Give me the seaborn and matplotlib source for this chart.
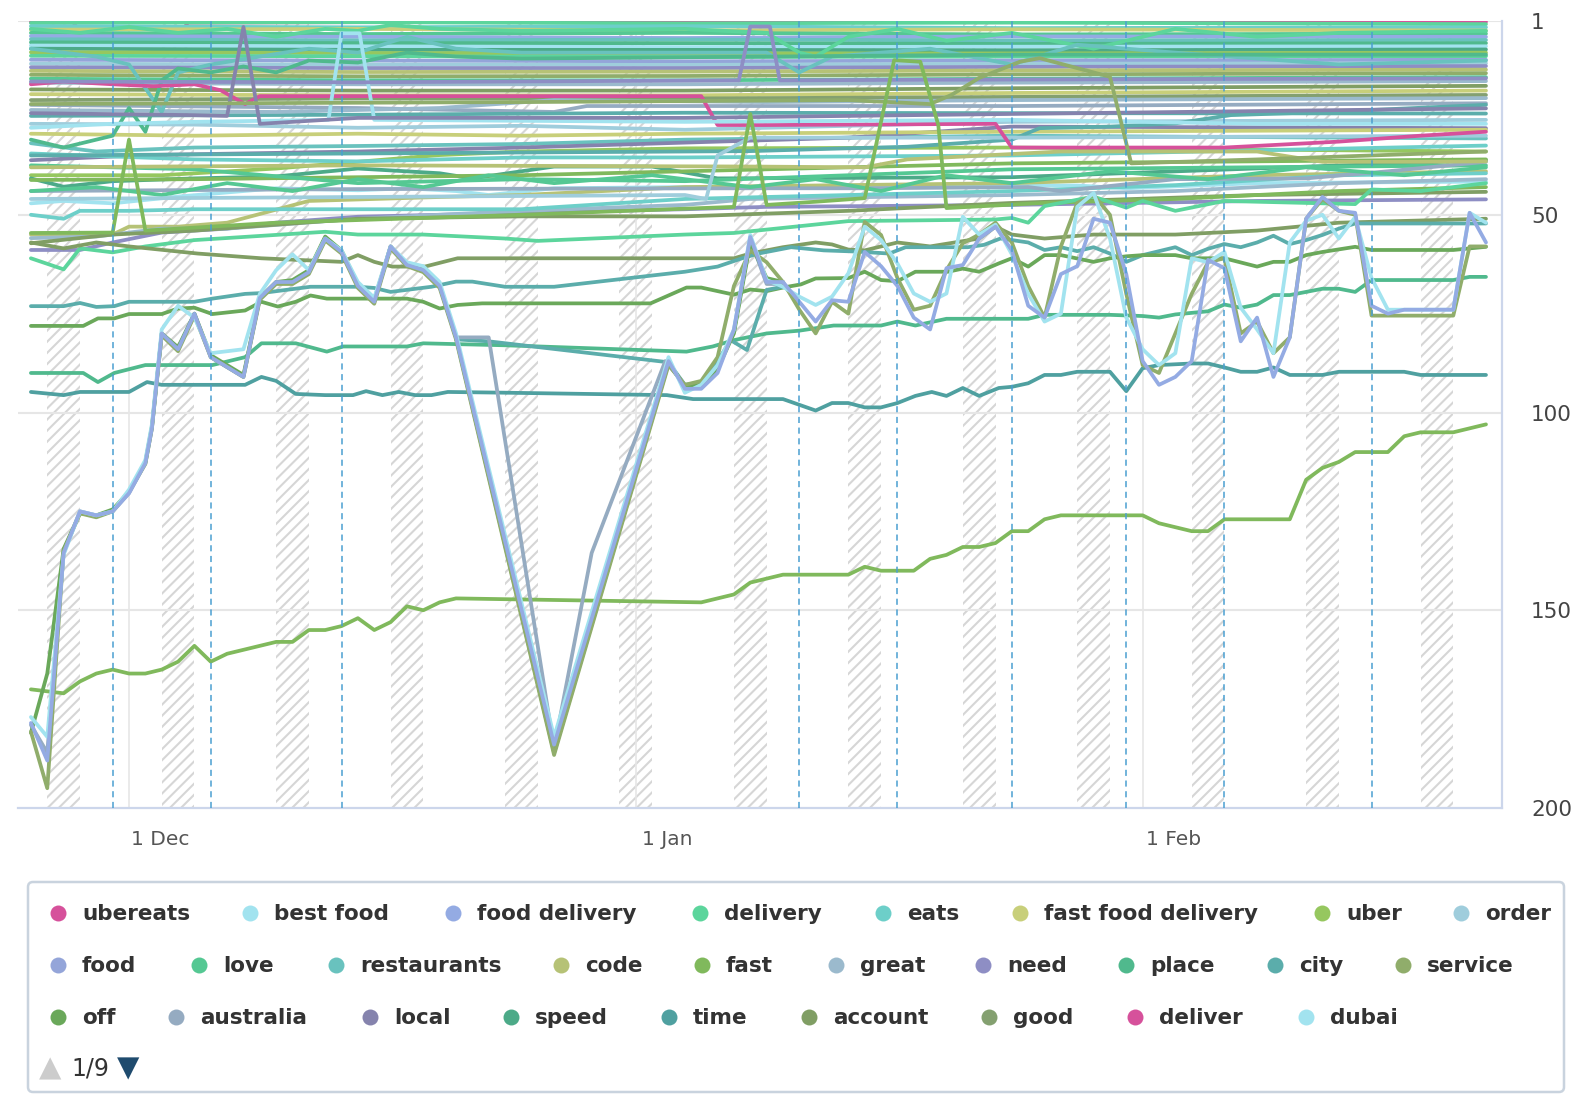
"""
Keyword rank tracking chart (rank 1 at top), weekends hatched
"""

import pandas as pd
import numpy as np
import matplotlib
matplotlib.use('Agg')
import matplotlib.pyplot as plt
import matplotlib.transforms as mtransforms
from matplotlib.patches import FancyBboxPatch
import seaborn as sns

# ---------------------------------------------------------------- data
start = pd.Timestamp('2022-11-25')   # day 0

legend_names = ['ubereats', 'best food', 'food delivery', 'delivery', 'eats',
                'fast food delivery', 'uber', 'order', 'food', 'love',
                'restaurants', 'code', 'fast', 'great', 'need', 'place', 'city',
                'service', 'off', 'australia', 'local', 'speed', 'time',
                'account', 'good', 'deliver', 'dubai']
palette = ['#d6519b', '#a2e3ef', '#94abe3', '#5cd59c', '#6dcfc9', '#c8cf7a',
           '#96c75f', '#9fcddc', '#94a5d9', '#55c893', '#69c2be', '#b6c276',
           '#80b95c', '#9bbacd', '#8e8ec4', '#50b98d', '#5badab', '#90ad6b',
           '#6aa85a', '#95abc1', '#8583ad', '#4caa88', '#4fa0a0', '#809e64',
           '#84a070']

annotation_days = [5, 11, 19, 47, 53, 60, 67, 73, 82]
month_ticks = ['2022-12-01', '2023-01-01', '2023-02-01']
month_labels = ['1 Dec', '1 Jan', '1 Feb']
rank_ticks = [1, 50, 100, 150, 200]

# each series: (day, rank) pairs
food_delivery = [(0, 178.5), (1, 188), (2, 135.5), (3, 125), (4, 126), (5, 125), (6, 120.4),
                 (7, 112.8), (7.4, 104), (8, 80), (9, 84), (10, 75), (11, 86), (13, 91),
                 (14, 71), (15, 67), (16, 67), (17, 64.5), (18, 56), (19, 59.4), (20, 68),
                 (21, 72), (22, 58), (23, 62.7), (24, 64), (25, 68), (26, 81), (32, 184),
                 (39, 87), (40, 94), (41, 94), (42, 90), (43, 79), (44, 55.6), (45, 67),
                 (46, 67), (47, 72), (48, 77), (49, 71.6), (50, 72), (51, 59.4), (52, 63),
                 (53, 68), (54, 76), (55, 79), (56, 63.5), (57, 62.7), (58, 56), (59, 53),
                 (60, 59), (61, 73), (62, 76), (63, 65), (64, 63), (65, 51), (66, 52),
                 (67, 65), (68, 87), (69, 93), (70, 91), (71, 87), (72, 61.4), (73, 63.5),
                 (74, 82), (75, 76), (76, 91), (77, 81), (78, 51), (79, 45.5), (80, 49),
                 (81, 49.5), (82, 73), (83, 75), (84, 74), (87, 74), (88, 49.5), (89, 57)]
best_food = [(0, 177), (1, 182), (2, 136), (3, 125), (4, 126), (5, 125), (6, 119.5),
             (7, 112), (7.4, 103), (8, 79), (9, 73), (10, 76), (11, 85), (13, 84), (14, 70),
             (15, 64), (16, 60), (17, 64), (18, 56), (19, 59), (20, 67), (21, 71), (22, 58),
             (23, 62), (24, 63), (25, 67), (26, 80), (32, 182), (39, 86), (40, 95), (41, 93),
             (42, 88), (43, 79), (44, 55.1), (45, 66.5), (46, 68.2), (47, 70.7), (48, 72.8),
             (49, 70.7), (50, 64.8), (51, 53), (52, 56.4), (53, 62.3), (54, 69.9),
             (55, 72), (56, 69.9), (57, 50.5), (58, 55), (59, 52.5), (60, 60), (61, 70),
             (62, 77), (63, 75), (64, 48), (65, 44.5), (66, 56), (67, 76), (68, 84),
             (69, 88), (70, 85), (71, 61), (72, 62), (73, 59.4), (74, 73.5), (75, 79),
             (76, 85), (77, 57), (78, 51.5), (79, 50), (80, 56), (81, 50.6), (82, 66),
             (83, 74), (87, 74), (88, 49.5), (89, 52)]
service_v = [(0, 180.7), (1, 195), (2, 135), (3, 125.5), (4, 126.5), (5, 125), (6, 120),
             (7, 113), (7.4, 104), (8, 80.5), (9, 84.5), (10, 75.5), (11, 86), (13, 91),
             (14, 71.5), (15, 67.5), (16, 67.5), (17, 65), (18, 56.5), (19, 59.8), (20, 68.5),
             (21, 72.5), (22, 58.5), (23, 63), (24, 64.5), (25, 68.5), (26, 81.5), (32, 186.6),
             (39, 88), (40, 93), (41, 92), (42, 86), (43, 68), (44, 59), (45, 62), (46, 67),
             (47, 74), (48, 80), (49, 72), (50, 75), (51, 51.8), (52, 55.1), (53, 66),
             (54, 74), (55, 73), (56, 64), (57, 57.2), (58, 55), (59, 52), (60, 57),
             (61, 68), (62, 76), (63, 58), (64, 47), (65, 45), (66, 50), (67, 70), (68, 88),
             (69, 90), (70, 80), (71, 70), (72, 62), (73, 61), (74, 80), (75, 77), (76, 85),
             (77, 81), (78, 51), (79, 46), (80, 49), (81, 50), (82, 75.5), (87, 75.5),
             (88, 58), (89, 58)]
off_v = [(0, 181), (1, 166), (2, 134.5), (3, 125.5), (4, 126), (5, 124.5), (6, 120),
         (7, 112.5), (7.4, 103.5), (8, 80), (9, 83.5), (10, 75), (11, 85.5), (13, 90.5),
         (14, 71), (15, 67), (16, 66.5), (17, 64), (18, 55.5), (19, 59), (20, 67.5), (21, 71.5),
         (22, 58), (23, 62.5), (24, 64), (25, 68), (26, 81), (32, 186), (39, 87.5), (40, 93.5),
         (41, 93), (42, 89), (43, 80), (44, 57), (45, 66), (46, 67)]
australia_v = [(0, 179), (1, 186), (2, 135.5), (3, 125), (4, 126), (5, 125), (6, 120.4),
               (7, 112.8), (7.4, 104), (8, 80), (9, 84), (10, 75), (11, 86), (13, 91),
               (14, 71), (15, 67), (16, 67), (17, 64.5), (18, 56), (19, 59.4), (20, 68),
               (21, 72), (22, 58), (23, 62.7), (24, 64), (25, 68), (26, 81), (28, 81),
               (32, 185), (34.3, 135.5), (38.8, 87), (40, 93), (41, 93), (42, 89), (43, 79.5),
               (44, 56), (45, 67.5), (46, 67.5), (47, 72.5)]
restaurants_v = [(26, 81.5), (28, 82), (39, 87.3), (40, 93), (41, 92.5), (42, 87),
                 (42.8, 81.7), (43.8, 84.2), (45, 69), (46, 68.2)]
rising_fast = [(0, 170), (2, 171), (3, 168), (4, 166), (5, 165), (6, 166), (7, 166),
               (8, 165), (9, 163), (10, 159), (11, 163), (12, 161), (13, 160), (14, 159),
               (15, 158), (16, 158), (17, 155), (18, 155), (19, 154), (20, 152), (21, 155),
               (22, 153), (23, 149), (24, 150), (25, 148), (26, 147), (41, 148), (43, 146),
               (44, 143), (46, 141), (47, 141), (50, 141), (51, 139), (52, 140), (54, 140),
               (55, 137), (56, 136), (57, 134), (58, 134), (59, 133), (60, 130), (61, 130),
               (62, 127), (63, 126), (68, 126), (69, 128), (70, 129), (71, 130), (72, 130),
               (73, 127), (77, 127), (78, 117), (79, 114), (80, 112.5), (81, 110), (83, 110),
               (84, 106), (85, 105), (87, 105), (89, 103)]
time_line = [(0, 94.8), (2, 95.6), (3, 94.8), (6, 94.8), (7.1, 92.3), (8, 93), (13.1, 93),
             (14.1, 91), (15, 92), (16.2, 95.3), (18, 95.6), (19.7, 95.6), (20.5, 94.6),
             (21.5, 95.6), (22.5, 94.8), (23.5, 95.6), (24.5, 95.6), (25.5, 94.8), (29.2, 95),
             (38.9, 95.6), (40.5, 96.6), (46, 96.6), (48, 99.5), (49, 97.6), (50, 97.6),
             (51, 98.7), (52, 98.7), (53, 97.6), (54.1, 95.8), (55.1, 94.8), (56, 95.8),
             (57, 93.8), (58, 95.8), (59.2, 93.8), (60, 93.5), (61, 92.6), (62, 90.5),
             (63, 90.5), (64, 89.7), (66, 89.7), (67, 94.6), (68, 88.8), (69, 88), (71, 87.6),
             (72, 87.6), (73, 88.6), (74, 89.7), (75, 89.7), (76, 88.6), (77, 90.5), (79, 90.5),
             (80, 89.7), (84, 89.7), (85, 90.5), (89, 90.5)]
place_line = [(0, 90), (3.2, 90), (4.1, 92.3), (5.1, 90), (7, 88), (11.1, 88), (13.1, 86),
              (14.1, 82.5), (16.2, 82.5), (18.1, 84.6), (19.1, 83.3), (23, 83.3), (24, 82.5),
              (29, 83), (40.1, 84.6), (41.7, 83.3), (43, 81.7), (45, 80), (47, 79.3),
              (49.1, 78), (52, 78), (53, 77), (54.1, 78), (56, 76.3), (61, 76.3), (62, 75.3),
              (66, 75.3), (68, 75.6), (69, 76), (70, 75.2), (72, 74.4), (73, 72.7), (74, 73.5),
              (75, 72.7), (76, 70.3), (77, 70.3), (78, 69.5), (79, 68.7), (80, 68.7),
              (81, 69.5), (82, 66.5), (87, 66.5), (88, 65.7), (89, 65.7)]
off_line = [(0, 78.1), (3.2, 78.1), (4.1, 76.2), (5.1, 76.2), (6, 75.1), (8, 75.1), (9, 73.7),
            (10, 73.5), (11.1, 75.1), (13.1, 74.2), (14.1, 72), (15.1, 73.2), (16.2, 72),
            (17.1, 70.4), (18.1, 71.2), (23, 71.2), (24, 72), (25, 73.7), (26.1, 72.8),
            (27.6, 72.4), (37.9, 72.4), (40.1, 68.4), (41, 68.4), (43, 70.2), (44, 68.9),
            (45, 69.3), (46, 68.4), (47.1, 67.6), (48, 66.1), (50, 66), (51, 64.4), (52, 66.5),
            (53, 66.8), (54.1, 64.4), (56.1, 64.4), (57, 63.6), (58, 64.4), (59.2, 62.3),
            (60, 61), (61, 63.1), (62, 60.2), (63, 60.2), (65, 61.9), (66, 61), (67, 60.5),
            (68, 60.2), (70, 60.2), (71, 61), (73, 61), (75, 63.1), (76, 61.9), (77, 61.9),
            (78, 60.2), (79, 59.4), (81, 58.1), (82, 58.9), (87, 58.9), (89, 58.1)]
city_line = [(0, 73.1), (2, 73.1), (3, 72.3), (4, 73.3), (5.1, 73.1), (6, 72), (10, 72),
             (11.1, 71.2), (13.1, 70), (14.1, 69.8), (17.1, 68.2), (20, 68.2), (21, 68.5),
             (22, 69.5), (24.5, 68.2), (26, 66.9), (27, 66.9), (29, 68.2), (32, 68.2),
             (40, 64.4), (42, 63.1), (43.5, 61), (44.5, 59.8), (46.5, 58.2), (48.5, 59),
             (50.5, 59.3), (52.5, 59.8), (53.5, 58.2), (57.3, 58.2), (58.3, 57.6), (59.3, 56),
             (60, 56.4), (61, 57), (62, 58.9), (63, 58.2), (64, 59.2), (65, 58.2), (66, 59.8),
             (67, 61.9), (68, 60.2), (70, 58.2), (71, 60.2), (72, 58.6), (73, 57.4), (74, 58.2),
             (75, 57), (76, 55.3), (77, 57.4), (78, 56.4), (79, 55.1), (80, 53.5), (81, 52.2),
             (89, 52.2)]
account_line = [(0, 57), (2, 58.5), (4, 57), (6, 58), (10.2, 59.8), (14.1, 61), (19, 61.9),
                (20, 60.2), (21, 61.9), (22.1, 63.1), (24.1, 63.1), (26.1, 61), (43, 61),
                (44, 59.8), (46, 58.2), (48, 57), (49, 57.5), (50, 58.8), (51, 59), (52, 58),
                (53, 57), (55, 58), (58, 56), (59, 53), (60, 55), (62, 56), (65, 55), (70, 55),
                (75, 54), (80, 52), (89, 51)]
delivery_line = [(0, 61), (2, 63.8), (3, 58.5), (5, 59.5), (7, 58), (10, 56.4), (18, 54.3),
                 (20, 55), (24, 55), (29, 56), (31, 56.6), (40, 55), (43, 54.6), (50, 51.6),
                 (59, 51.2), (60, 50.8), (61, 52), (62, 47.8), (65, 45.4), (67, 48.2),
                 (68, 46.5), (70, 49), (73, 46.5), (81, 47.3), (82, 43.6), (85, 44), (89, 42)]
ubereats_line = [(0, 17), (2, 16.3), (5, 17), (7.5, 17.5), (10, 17), (11.6, 18.5), (13.1, 22),
                 (14, 20), (41, 20), (42, 27.3), (45, 27.3), (59, 27), (60, 33), (73, 33),
                 (80, 31.5), (85, 30), (89, 29)]
deliver_line = [(0, 1.3), (2.6, 1.3), (3.4, 7), (8.7, 7), (9.6, 1.4), (30, 1.2), (60, 1.3),
                (89, 1.2)]
dubai_spike = [(0, 28), (5, 27), (10, 26.5), (18.2, 26), (19, 4.1), (20.1, 4.1), (21, 26),
               (40, 26.5), (60, 26), (75, 27), (89, 27)]
fast_spike = [(0, 54.6), (5, 54.5), (6, 31), (7, 54), (15, 52), (30, 50), (43, 48), (44, 24.5),
              (45, 47.5), (48, 46.7), (51, 45.8), (52.8, 10.9), (54.4, 11.3), (55.5, 27.3),
              (56, 48.3), (62, 47), (70, 46), (80, 44), (89, 43)]
service_spike = [(0, 22), (30, 21.5), (50, 21), (55, 22), (56.3, 19.7), (58, 15.4),
                 (60.5, 11.3), (61.7, 10.4), (66, 15.1), (67.3, 37), (75, 36), (89, 34)]
need_spike = [(0, 16.3), (20, 16.5), (43.3, 16), (44, 2.4), (45.2, 2.4), (45.8, 16),
              (60, 15.8), (89, 15.5)]
local_spike = [(0, 24.3), (10, 24.8), (12, 25), (13, 2.5), (14, 27), (20, 25.5), (40, 25.5),
               (60, 24.5), (89, 23.1)]
order_jump = [(0, 46), (20, 45.5), (40, 45), (41.3, 46), (42, 35), (44, 30.5), (60, 30.5),
              (89, 30)]

# dense block near the top
kw_01 = [(0, 1.5), (20, 1.3), (40, 1.6), (60, 1.4), (89, 1.8)]
kw_02 = [(0, 2.3), (20, 2.6), (40, 2.3), (60, 2.8), (89, 2.6)]
kw_03 = [(0, 3.2), (20, 3.0), (40, 3.4), (60, 3.1), (89, 3.4)]
kw_04 = [(0, 4.0), (20, 4.3), (40, 4.0), (60, 4.4), (89, 4.2)]
kw_05 = [(0, 4.8), (20, 5.0), (40, 5.3), (60, 4.9), (89, 5.0)]
kw_06 = [(0, 5.6), (20, 5.9), (40, 5.7), (60, 5.9), (89, 5.8)]
kw_07 = [(0, 6.4), (20, 6.6), (40, 6.6), (60, 6.8), (89, 6.6)]
kw_08 = [(0, 7.2), (20, 7.4), (40, 7.6), (60, 7.5), (89, 7.4)]
kw_09 = [(0, 8.0), (20, 8.3), (40, 8.3), (60, 8.4), (89, 8.2)]
kw_10 = [(0, 8.9), (20, 9.1), (40, 9.2), (60, 9.2), (89, 9.0)]
kw_11 = [(0, 9.8), (20, 9.9), (40, 10.1), (60, 10.0), (89, 9.9)]
kw_12 = [(0, 10.8), (20, 11.0), (40, 11.2), (60, 11.0), (89, 10.8)]
kw_13 = [(0, 11.8), (20, 12.0), (40, 12.1), (60, 11.8), (89, 11.7)]
kw_14 = [(0, 12.7), (20, 12.9), (40, 12.9), (60, 12.6), (89, 12.4)]
kw_15 = [(0, 13.6), (20, 13.9), (40, 13.8), (60, 13.5), (89, 13.3)]
kw_16 = [(0, 14.6), (20, 15.0), (40, 14.9), (60, 14.5), (89, 14.2)]
kw_17 = [(0, 15.6), (20, 16.0), (40, 16.0), (60, 15.6), (89, 15.2)]
kw_18 = [(0, 16.6), (20, 17.0), (40, 17.0), (60, 16.6), (89, 16.2)]
kw_19 = [(0, 18.3), (20, 18.6), (40, 18.6), (60, 18.0), (89, 17.4)]
kw_20 = [(0, 19.5), (20, 19.8), (40, 19.8), (60, 19.2), (89, 18.6)]
kw_21 = [(0, 21), (20, 20.6), (40, 20.6), (60, 20.2), (89, 19.7)]
kw_22 = [(0, 22.2), (20, 23), (32, 24), (34, 22.5), (60, 22.5), (89, 21.8)]
kw_23 = [(0, 25), (20, 24.7), (40, 24.2), (60, 24.3), (89, 24.4)]
kw_24 = [(0, 31.9), (4, 34), (10, 33), (20, 32.6), (30, 32.1), (40, 31), (60, 30), (89, 30.7)]
kw_25 = [(0, 36.2), (7, 34.9), (20, 34), (30, 33), (42, 31.5), (50, 30.5), (60, 27.7), (89, 28.1)]
kw_26 = [(0, 40), (8, 40), (15, 38.3), (25, 34.9), (30, 34), (40, 33.2), (60, 33), (89, 34)]
kw_27 = [(0, 40.8), (2, 42.9), (5, 41.5), (10, 40.8), (15, 40.3), (20, 38.3), (25, 39.5),
         (27, 40.8), (32, 37.8), (38, 37.8), (42, 40.8), (60, 40.5), (89, 36.2)]
kw_28 = [(0, 47.1), (2, 46.5), (5, 47.1), (9, 45.4), (15, 43.3), (20, 43.8), (23, 43.3),
         (26, 44), (28, 45), (32, 43.3), (50, 42.6), (64, 42.6), (67, 43.3), (75, 42), (89, 41.6)]
kw_29 = [(0, 55), (5, 55), (6, 53), (9, 53), (12, 52), (17, 46.5), (25, 45.5), (30, 45),
         (40, 43), (60, 42), (75, 40), (89, 39)]
kw_30 = [(0, 58.9), (3, 58.9), (5, 57), (8, 54.5), (12, 53.5), (15, 52), (20, 50.5), (30, 49.5),
         (40, 48.6), (45, 48), (60, 47.5), (75, 46.5), (89, 46.1)]
kw_31 = [(0, 55.9), (4, 55.5), (8, 53.5), (12, 53.5), (20, 51), (30, 49), (40, 47.5), (44, 46),
         (50, 45.6), (60, 45), (70, 44), (80, 42), (89, 41)]
kw_32 = [(0, 50), (2, 51), (3, 49), (6, 49), (10, 48.6), (20, 48.6), (30, 48.6), (40, 46),
         (50, 45), (60, 44), (70, 42.5), (80, 40), (89, 39.5)]
kw_33 = [(0, 57.2), (5, 55), (10, 54), (20, 51), (30, 50.4), (40, 50.4), (50, 49), (60, 47),
         (75, 45), (89, 44.2)]
kw_34 = [(0, 41.2), (10, 41), (20, 40.5), (30, 40), (40, 39), (60, 37), (89, 36)]
kw_35 = [(0, 27), (10, 27.2), (20, 28), (30, 27.5), (40, 28.5), (60, 26.5), (89, 26)]
kw_36 = [(0, 29.5), (10, 30), (20, 29.5), (30, 30), (40, 29.5), (60, 29), (89, 28.5)]
kw_37 = [(0, 34.5), (10, 36), (20, 36.5), (30, 35.5), (40, 35.5), (60, 35), (89, 32.5)]
kw_38 = [(0, 37.5), (10, 38.5), (20, 42), (30, 41), (40, 41.5), (60, 38.5), (89, 37.5)]
kw_39 = [(0, 35), (20, 34.5), (44, 33.9), (49, 33.3), (53.6, 32.8), (60, 31), (61.7, 28.1),
         (66, 27.7), (70, 26.9), (73.4, 24.8), (79.3, 24), (89, 22.2)]
kw_40 = [(0, 44), (20, 43.5), (44, 43.3), (51, 43.3), (61, 43), (63, 44), (70, 41),
         (78, 40.8), (83, 39), (89, 36.6)]
kw_41 = [(0, 38), (20, 37.5), (44, 37.8), (51, 38), (53.6, 36), (63, 34), (75, 34),
         (79, 36.6), (85, 36.6), (89, 36.5)]
kw_42 = [(0, 44), (4, 43), (8, 45), (12, 42), (16, 44), (20, 41), (24, 43), (28, 40), (32, 42),
         (38, 40), (44, 43), (48, 41), (52, 44), (56, 40), (60, 42), (66, 39), (72, 41),
         (78, 38), (84, 40), (89, 38)]
kw_43 = [(0, 23.5), (15, 24), (25, 23), (32, 21), (45, 21.5), (60, 21), (89, 20.5)]
wiggle_1 = [(0, 3), (3, 4), (6, 2.5), (9, 4), (12, 3), (15, 5), (18, 3), (20, 3.5), (22, 2),
            (25, 3), (30, 3.5), (40, 3), (45, 4), (47, 9), (48, 10), (50, 5), (53, 3), (56, 6),
            (60, 4), (65, 8), (70, 3), (75, 5), (80, 4), (89, 3.5)]
wiggle_2 = [(0, 8), (4, 10), (6, 12), (8, 24), (9, 14), (11, 12), (14, 10), (17, 8), (20, 9),
            (23, 5), (26, 8), (30, 9), (45, 9), (47, 14), (49, 10), (55, 8), (60, 12), (64, 7),
            (70, 9), (80, 12), (89, 11)]
wiggle_3 = [(0, 31), (2, 33), (5, 30), (6, 23), (7, 29), (8, 16), (9, 13), (11, 14), (13, 12.5),
            (15, 14), (17, 11), (20, 11.5), (23, 9), (26, 10), (30, 10.5), (45, 10), (60, 9.5),
            (89, 9.5)]

# draw order (first = bottom) and colour of each series, by legend colour name
series_style = [
    ('deliver', deliver_line, 'ubereats'),
    ('kw_01', kw_01, 'delivery'), ('kw_02', kw_02, 'eats'), ('kw_03', kw_03, 'fast food delivery'),
    ('kw_04', kw_04, 'love'), ('kw_05', kw_05, 'food delivery'), ('kw_06', kw_06, 'restaurants'),
    ('kw_07', kw_07, 'place'), ('kw_08', kw_08, 'best food'), ('kw_09', kw_09, 'speed'),
    ('kw_10', kw_10, 'uber'), ('kw_11', kw_11, 'delivery'), ('kw_12', kw_12, 'food'),
    ('kw_13', kw_13, 'order'), ('kw_14', kw_14, 'need'), ('kw_15', kw_15, 'code'),
    ('kw_16', kw_16, 'service'), ('kw_17', kw_17, 'love'), ('kw_18', kw_18, 'great'),
    ('kw_19', kw_19, 'account'), ('kw_20', kw_20, 'fast food delivery'), ('kw_21', kw_21, 'good'),
    ('kw_22', kw_22, 'australia'), ('kw_23', kw_23, 'city'), ('kw_24', kw_24, 'restaurants'),
    ('kw_25', kw_25, 'local'), ('kw_26', kw_26, 'uber'), ('kw_27', kw_27, 'speed'),
    ('kw_28', kw_28, 'best food'), ('kw_29', kw_29, 'code'), ('kw_30', kw_30, 'need'),
    ('kw_31', kw_31, 'great'), ('kw_32', kw_32, 'eats'), ('kw_33', kw_33, 'account'),
    ('kw_34', kw_34, 'fast'), ('kw_35', kw_35, 'order'), ('kw_36', kw_36, 'fast food delivery'),
    ('kw_37', kw_37, 'eats'), ('kw_38', kw_38, 'love'), ('kw_39', kw_39, 'city'),
    ('kw_40', kw_40, 'australia'), ('kw_41', kw_41, 'code'), ('kw_42', kw_42, 'love'),
    ('kw_43', kw_43, 'great'),
    ('wiggle_1', wiggle_1, 'delivery'), ('wiggle_2', wiggle_2, 'restaurants'),
    ('wiggle_3', wiggle_3, 'place'), ('order', order_jump, 'order'),
    ('ubereats', ubereats_line, 'ubereats'),
    ('dubai', dubai_spike, 'best food'), ('need', need_spike, 'need'),
    ('local', local_spike, 'local'), ('service_spike', service_spike, 'service'),
    ('fast_spike', fast_spike, 'fast'), ('delivery', delivery_line, 'delivery'),
    ('account', account_line, 'account'), ('city', city_line, 'city'),
    ('off', off_line, 'off'), ('place', place_line, 'place'), ('time', time_line, 'time'),
    ('rising', rising_fast, 'fast'), ('restaurants', restaurants_v, 'city'),
    ('australia', australia_v, 'australia'), ('off_v', off_v, 'off'),
    ('service', service_v, 'service'), ('best food', best_food, 'best food'),
    ('food delivery', food_delivery, 'food delivery'),
]

# legend layout (pixel positions of the markers)
legend_rows = [
    (['ubereats', 'best food', 'food delivery', 'delivery', 'eats', 'fast food delivery', 'uber', 'order'],
     [58, 250, 453, 700, 883, 1020, 1322, 1461]),
    (['food', 'love', 'restaurants', 'code', 'fast', 'great', 'need', 'place', 'city', 'service'],
     [58, 199, 336, 561, 702, 836, 983, 1126, 1275, 1403]),
    (['off', 'australia', 'local', 'speed', 'time', 'account', 'good', 'deliver', 'dubai'],
     [58, 176, 370, 511, 669, 809, 989, 1135, 1306]),
]
legend_row_y = [913, 965, 1017]

# ---------------------------------------------------------------- build
color_of = {name: palette[i % len(palette)] for i, name in enumerate(legend_names)}

rows = []
for key, pts, _ in series_style:
    for d, r in pts:
        rows.append({'series': key, 'date': start + pd.Timedelta(days=d), 'rank': r})
df = pd.DataFrame(rows)
line_colors = {key: color_of[c] for key, _, c in series_style}
order = [key for key, _, _ in series_style]

sns.set_style('white')
plt.rcParams['font.family'] = ['DejaVu Sans']
plt.rcParams['hatch.linewidth'] = 1.5

W, H = 1590, 1106
fig = plt.figure(figsize=(W / 100, H / 100), dpi=100)
ax = fig.add_axes([18 / W, 1 - 808 / H, (1502 - 18) / W, (808 - 21) / H])

# weekend hatching
for d in pd.date_range(start - pd.Timedelta(days=7), start + pd.Timedelta(days=95)):
    if d.dayofweek == 5:
        ax.axvspan(d, d + pd.Timedelta(days=2), facecolor='none', edgecolor='#d6d6d6',
                   hatch='///', linewidth=0, zorder=0)

for y in [1, 50, 100, 150]:
    ax.axhline(y, color='#e6e6e6', lw=1.5, zorder=0.5)

sns.lineplot(data=df, x='date', y='rank', hue='series', hue_order=order,
             palette=line_colors, estimator=None, sort=False, legend=False,
             linewidth=2.7, ax=ax, solid_joinstyle='round', solid_capstyle='round',
             zorder=2)

for d in annotation_days:
    ax.axvline(start + pd.Timedelta(days=d), color='#4a9fd1', lw=1.1,
               linestyle=(0, (4, 3)), zorder=3)

ax.set_ylim(200, 1)
ax.set_xlim(start - pd.Timedelta(days=0.79), start + pd.Timedelta(days=89.98))

ax.set_xticks(pd.to_datetime(month_ticks))
ax.set_xticklabels(month_labels)
ax.xaxis.grid(True, color='#e6e6e6', lw=1.2)
ax.set_axisbelow(True)
ax.yaxis.tick_right()
ax.set_yticks(rank_ticks)
ax.set_yticklabels([str(t) for t in rank_ticks])
ax.tick_params(axis='x', length=0, pad=16, labelsize=14.5, labelcolor='#555555')
ax.tick_params(axis='y', length=0, pad=21, labelsize=15.5, labelcolor='#444444')
ax.set_xlabel('')
ax.set_ylabel('')
offset = mtransforms.ScaledTranslation(0.31, 0, fig.dpi_scale_trans)
for lab in ax.get_xticklabels():
    lab.set_transform(lab.get_transform() + offset)

for side in ['top', 'left']:
    ax.spines[side].set_visible(False)
for side in ['bottom', 'right']:
    ax.spines[side].set_color('#ccd6eb')
    ax.spines[side].set_linewidth(1.6)

# ---------------------------------------------------------------- legend
lax = fig.add_axes([0, 0, 1, 1], facecolor='none')
lax.set_xlim(0, W)
lax.set_ylim(H, 0)
lax.axis('off')
lax.add_patch(FancyBboxPatch((28, 882), 1536, 210, boxstyle='round,pad=0,rounding_size=5',
                             facecolor='white', edgecolor='#c9d3de', lw=1.8))
for (names, xs), y in zip(legend_rows, legend_row_y):
    for name, x in zip(names, xs):
        lax.plot([x], [y], marker='o', markersize=11.5, color=color_of[name], mec='none')
        lax.text(x + 24, y + 1, name, fontsize=15.5, fontweight='bold', color='#333333',
                 va='center', ha='left')
lax.text(50, 1068, '\u25b2', fontsize=21, color='#cccccc', ha='center', va='center')
lax.text(90, 1068, '1/9', fontsize=17, color='#333333', ha='center', va='center')
lax.text(128, 1068, '\u25bc', fontsize=21, color='#1f4b6e', ha='center', va='center')

fig.savefig('out.png', dpi=100, facecolor='white')
